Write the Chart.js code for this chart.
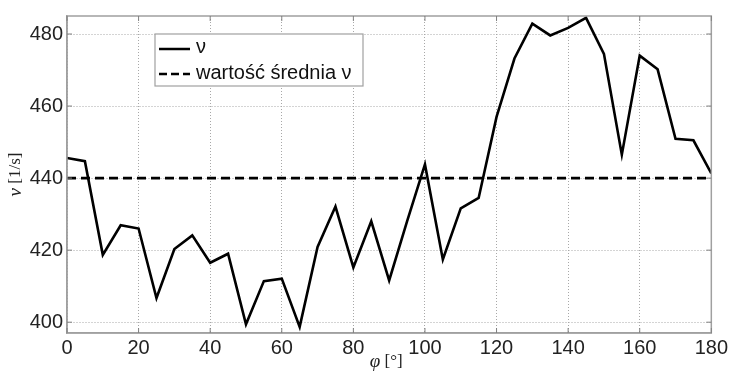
<!DOCTYPE html>
<html>
<head>
<meta charset="utf-8">
<script src="https://cdn.jsdelivr.net/npm/chart.js@4"></script>
<style>
html,body{margin:0;padding:0;background:#fff;}
#wrap{position:relative;width:731px;height:375px;}
</style>
</head>
<body>
<div id="wrap"><canvas id="c" width="731" height="375"></canvas></div>
<script>
const angles = [0,5,10,15,20,25,30,35,40,45,50,55,60,65,70,75,80,85,90,95,100,105,110,115,120,125,130,135,140,145,150,155,160,165,170,175,180];
const nuValues = [445.6,444.7,418.7,426.9,426.0,406.7,420.3,424.1,416.5,419.0,399.4,411.4,412.1,398.7,420.9,432.1,415.2,428.0,411.6,428.0,443.8,417.4,431.6,434.5,457.0,473.2,482.9,479.6,481.7,484.5,474.5,446.5,474.0,470.2,450.9,450.5,441.3];
const meanValue = 440;
const xTicks = [0,20,40,60,80,100,120,140,160,180];
const yTicks = [400,420,440,460,480];
const legendLabels = ["ν", "wartość średnia ν"];
const xTitleSymbol = "φ", xTitleUnit = " [°]";
const yTitleSymbol = "ν", yTitleUnit = " [1/s]";

const seriesPts = angles.map((a,i)=>({x:a,y:nuValues[i]}));
const meanPts = [{x:angles[0],y:meanValue},{x:angles[angles.length-1],y:meanValue}];

const SANS = '"Liberation Sans", Arial, sans-serif';
const SERIF = '"Liberation Serif","DejaVu Serif",serif';

function drawMixed(ctx, sym, unit, cx, cy){
  ctx.font = 'italic 19px ' + SERIF;
  const w1 = ctx.measureText(sym).width;
  ctx.font = '17px ' + SERIF;
  const w2 = ctx.measureText(unit).width;
  let x = cx - (w1+w2)/2;
  ctx.textBaseline = 'middle';
  ctx.textAlign = 'left';
  ctx.font = 'italic 19px ' + SERIF;
  ctx.fillText(sym, x, cy);
  ctx.font = '17px ' + SERIF;
  ctx.fillText(unit, x + w1, cy);
}

const boxPlugin = {
  id:'boxAndLegend',
  afterDraw(chart){
    const ctx = chart.ctx, a = chart.chartArea;
    ctx.save();
    ctx.strokeStyle = '#a0a0a0';
    ctx.lineWidth = 1.5;
    ctx.strokeRect(a.left, a.top, a.right-a.left, a.bottom-a.top);
    // inward tick marks
    ctx.strokeStyle='#808080'; ctx.lineWidth=1;
    const xs = chart.scales.x, ys = chart.scales.y;
    xTicks.forEach(t=>{const px=xs.getPixelForValue(t);
      ctx.beginPath();ctx.moveTo(px,a.bottom);ctx.lineTo(px,a.bottom-5);ctx.moveTo(px,a.top);ctx.lineTo(px,a.top+5);ctx.stroke();});
    yTicks.forEach(t=>{const py=ys.getPixelForValue(t);
      ctx.beginPath();ctx.moveTo(a.left,py);ctx.lineTo(a.left+5,py);ctx.moveTo(a.right,py);ctx.lineTo(a.right-5,py);ctx.stroke();});
    // legend box
    const lx = a.left + 88, ly = a.top + 18, lw = 208, lh = 52;
    ctx.fillStyle = '#fff';
    ctx.fillRect(lx, ly, lw, lh);
    ctx.strokeStyle = '#a0a0a0'; ctx.lineWidth = 1.2;
    ctx.strokeRect(lx, ly, lw, lh);
    ctx.strokeStyle = '#000'; ctx.lineWidth = 2.5;
    ctx.beginPath(); ctx.moveTo(lx+4, ly+15); ctx.lineTo(lx+35, ly+15); ctx.stroke();
    ctx.setLineDash([8,4]);
    ctx.beginPath(); ctx.moveTo(lx+4, ly+40); ctx.lineTo(lx+35, ly+40); ctx.stroke();
    ctx.setLineDash([]);
    ctx.fillStyle = '#111';
    ctx.font = '20px ' + SANS;
    ctx.textBaseline = 'middle';
    ctx.textAlign = 'left';
    ctx.fillText(legendLabels[0], lx+41, ly+13);
    ctx.fillText(legendLabels[1], lx+41, ly+39);
    // axis titles
    ctx.fillStyle = '#222';
    drawMixed(ctx, xTitleSymbol, xTitleUnit, (a.left+a.right)/2 - 3, 362);
    ctx.save();
    ctx.translate(16, (a.top+a.bottom)/2);
    ctx.rotate(-Math.PI/2);
    drawMixed(ctx, yTitleSymbol, yTitleUnit, 0, 0);
    ctx.restore();
    ctx.restore();
  }
};

new Chart(document.getElementById('c'), {
  type:'line',
  data:{datasets:[
    {label:legendLabels[0], data:seriesPts, borderColor:'#000', borderWidth:2.6, pointRadius:0, tension:0, fill:false},
    {label:legendLabels[1], data:meanPts, borderColor:'#000', borderWidth:2.6, borderDash:[9,5], pointRadius:0, tension:0, fill:false}
  ]},
  options:{
    responsive:false, animation:false, devicePixelRatio:1,
    layout:{padding:{top:4,right:17,left:0,bottom:0}},
    plugins:{legend:{display:false}, tooltip:{enabled:false}},
    scales:{
      x:{type:'linear', min:0, max:180,
        afterBuildTicks(s){s.ticks = xTicks.map(v=>({value:v}));},
        afterFit(s){s.height = 42;},
        grid:{color:'#a8a8a8', lineWidth:1, drawTicks:false},
        border:{display:true, color:'#a0a0a0', width:1.5, dash:[1,2]},
        ticks:{color:'#222', font:{family:SANS, size:20}, padding:3, maxRotation:0},
        title:{display:false}
      },
      y:{type:'linear', min:397, max:485,
        afterBuildTicks(s){s.ticks = yTicks.map(v=>({value:v}));},
        afterFit(s){s.width = 67;},
        grid:{color:'#a8a8a8', lineWidth:1, drawTicks:false},
        border:{display:true, color:'#a0a0a0', width:1.5, dash:[1,2]},
        ticks:{color:'#222', font:{family:SANS, size:20}, padding:4},
        title:{display:false}
      }
    }
  },
  plugins:[boxPlugin]
});
</script>
</body>
</html>
